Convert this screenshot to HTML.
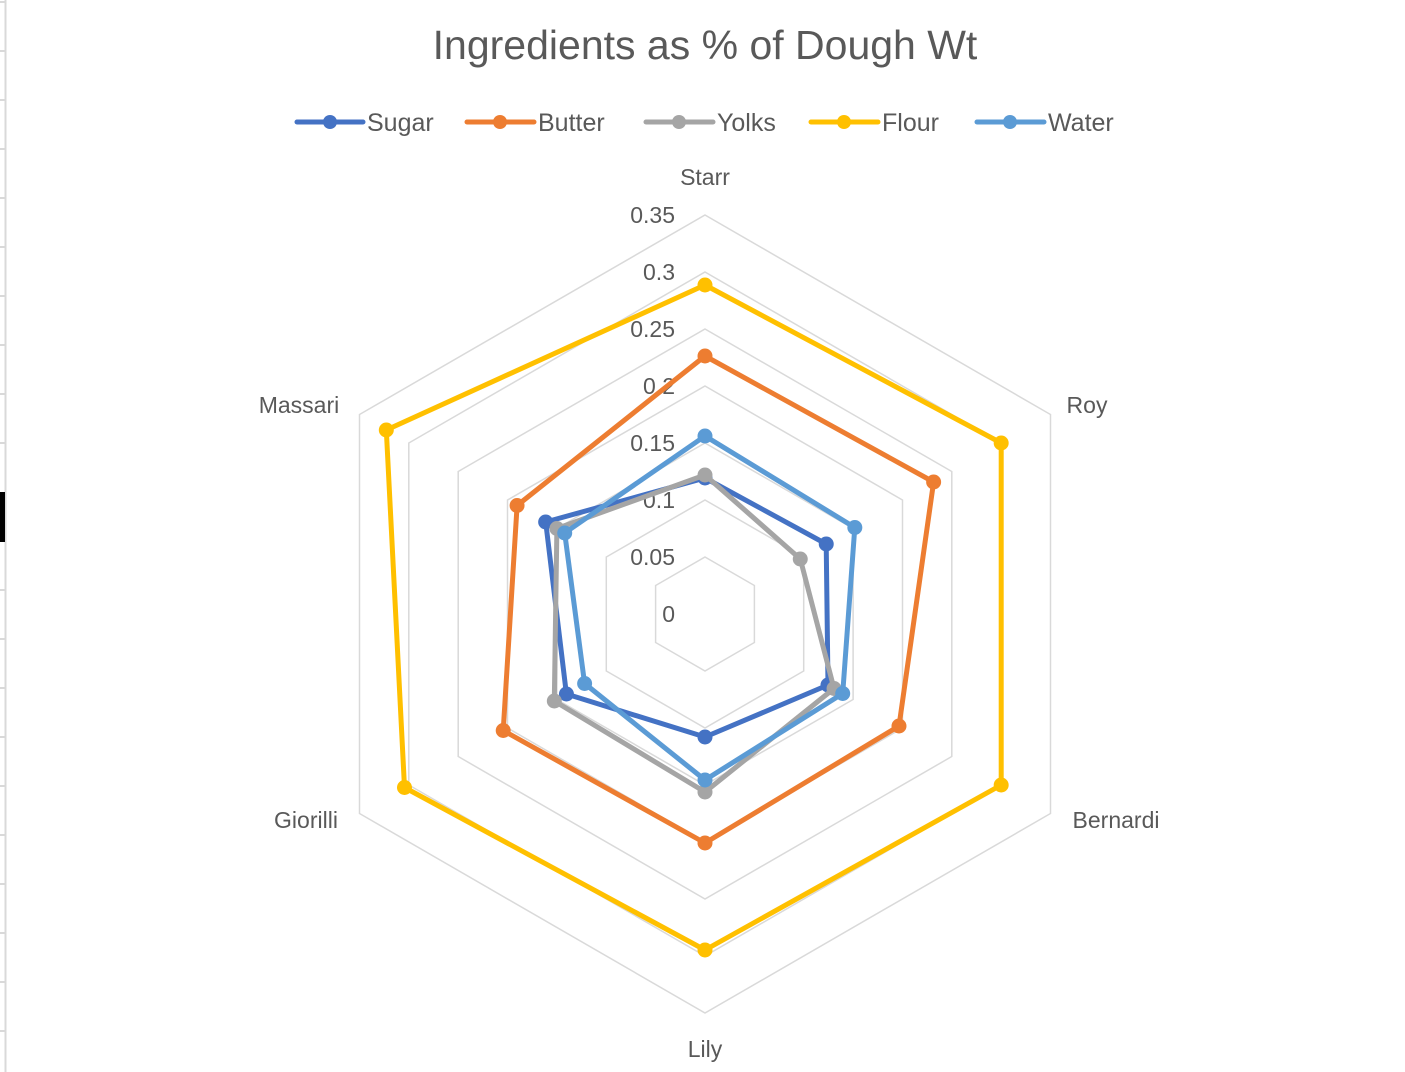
<!DOCTYPE html>
<html><head><meta charset="utf-8"><style>
html,body{margin:0;padding:0;background:#fff;}
svg{display:block;font-family:"Liberation Sans",sans-serif;}
</style></head><body>
<svg width="1405" height="1072" viewBox="0 0 1405 1072">
<rect width="1405" height="1072" fill="#fff"/>
<line x1="5.5" y1="0" x2="5.5" y2="1072" stroke="#d9d9d9" stroke-width="2"/>
<g stroke="#d9d9d9" stroke-width="2">
<line x1="0" y1="2" x2="5" y2="2"/><line x1="0" y1="51" x2="5" y2="51"/><line x1="0" y1="100" x2="5" y2="100"/><line x1="0" y1="149" x2="5" y2="149"/><line x1="0" y1="198" x2="5" y2="198"/><line x1="0" y1="247" x2="5" y2="247"/><line x1="0" y1="296" x2="5" y2="296"/><line x1="0" y1="345" x2="5" y2="345"/><line x1="0" y1="394" x2="5" y2="394"/><line x1="0" y1="443" x2="5" y2="443"/><line x1="0" y1="590" x2="5" y2="590"/><line x1="0" y1="639" x2="5" y2="639"/><line x1="0" y1="688" x2="5" y2="688"/><line x1="0" y1="737" x2="5" y2="737"/><line x1="0" y1="786" x2="5" y2="786"/><line x1="0" y1="835" x2="5" y2="835"/><line x1="0" y1="884" x2="5" y2="884"/><line x1="0" y1="933" x2="5" y2="933"/><line x1="0" y1="982" x2="5" y2="982"/><line x1="0" y1="1031" x2="5" y2="1031"/>
</g>
<rect x="0" y="492" width="5" height="50" fill="#000"/>
<text x="705" y="59" font-size="41" fill="#595959" text-anchor="middle">Ingredients as % of Dough Wt</text>
<g font-size="25" fill="#595959">
<line x1="297" y1="122" x2="363" y2="122" stroke="#4472c4" stroke-width="5" stroke-linecap="round"/><circle cx="330" cy="122" r="7" fill="#4472c4"/><text x="367" y="131">Sugar</text>
<line x1="467" y1="122" x2="534" y2="122" stroke="#ed7d31" stroke-width="5" stroke-linecap="round"/><circle cx="500" cy="122" r="7" fill="#ed7d31"/><text x="538" y="131">Butter</text>
<line x1="646" y1="122" x2="713" y2="122" stroke="#a5a5a5" stroke-width="5" stroke-linecap="round"/><circle cx="679" cy="122" r="7" fill="#a5a5a5"/><text x="717" y="131">Yolks</text>
<line x1="811" y1="122" x2="878" y2="122" stroke="#ffc000" stroke-width="5" stroke-linecap="round"/><circle cx="844" cy="122" r="7" fill="#ffc000"/><text x="882" y="131">Flour</text>
<line x1="977" y1="122" x2="1044" y2="122" stroke="#5b9bd5" stroke-width="5" stroke-linecap="round"/><circle cx="1010" cy="122" r="7" fill="#5b9bd5"/><text x="1048" y="131">Water</text>
</g>
<g fill="none" stroke="#d9d9d9" stroke-width="1.5" id="grid"></g>
<g font-size="23" fill="#595959" text-anchor="end" id="ticks"></g>
<g font-size="23" fill="#595959" text-anchor="middle">
<text x="705" y="185">Starr</text>
<text x="1087" y="413">Roy</text>
<text x="1116" y="828">Bernardi</text>
<text x="705" y="1057">Lily</text>
<text x="306" y="828">Giorilli</text>
<text x="299" y="413">Massari</text>
</g>
<g id="series"></g>
<script>
var cx=705,cy=614,step=57;
var ang=[-90,-30,30,90,150,210].map(function(a){return a*Math.PI/180;});
var g=document.getElementById('grid'),t=document.getElementById('ticks'),ns='http://www.w3.org/2000/svg';
for(var k=1;k<=7;k++){var r=k*step,p=ang.map(function(a){return (cx+r*Math.cos(a)).toFixed(1)+','+(cy+r*Math.sin(a)).toFixed(1);}).join(' ');
var pg=document.createElementNS(ns,'polygon');pg.setAttribute('points',p);g.appendChild(pg);}
var lab=['0','0.05','0.1','0.15','0.2','0.25','0.3','0.35'];
for(var k=0;k<=7;k++){var tx=document.createElementNS(ns,'text');tx.setAttribute('x',675);tx.setAttribute('y',cy-k*step+8);tx.textContent=lab[k];t.appendChild(tx);}
var S=[['#4472c4',[136,140,142,123,160,184]],['#ed7d31',[258,264,224,229,233,217]],['#a5a5a5',[139,110,149,178,174,171]],['#ffc000',[329,342,342,336,347,368]],['#5b9bd5',[178,173,159,166,139,162]]];
var sg=document.getElementById('series');
S.forEach(function(s){var pts=s[1].map(function(r,i){return [cx+r*Math.cos(ang[i]),cy+r*Math.sin(ang[i])];});
var pg=document.createElementNS(ns,'polygon');pg.setAttribute('points',pts.map(function(q){return q[0].toFixed(1)+','+q[1].toFixed(1);}).join(' '));
pg.setAttribute('fill','none');pg.setAttribute('stroke',s[0]);pg.setAttribute('stroke-width','5');pg.setAttribute('stroke-linejoin','round');sg.appendChild(pg);
pts.forEach(function(q){var c=document.createElementNS(ns,'circle');c.setAttribute('cx',q[0]);c.setAttribute('cy',q[1]);c.setAttribute('r',7.5);c.setAttribute('fill',s[0]);sg.appendChild(c);});});
</script>
</svg>
</body></html>
